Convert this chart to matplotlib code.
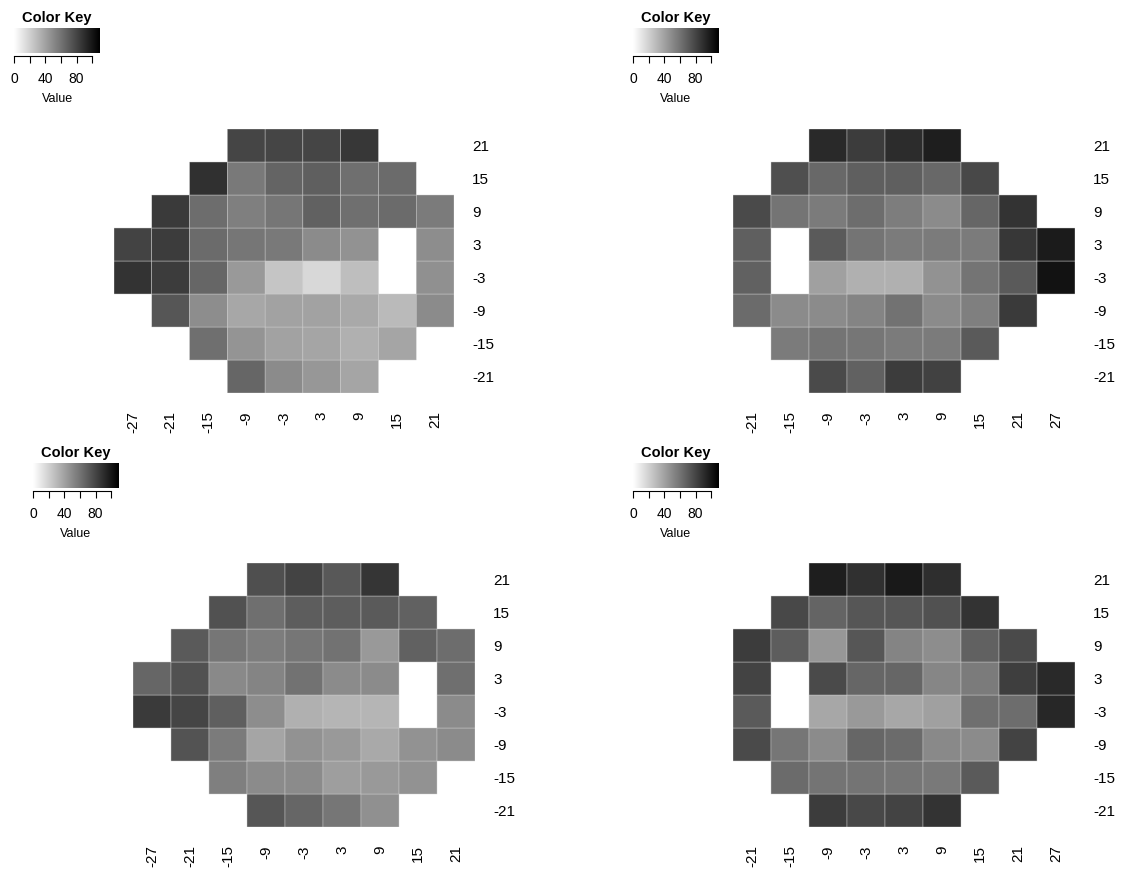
import numpy as np
import matplotlib
matplotlib.use('Agg')
import matplotlib.pyplot as plt
from matplotlib.colors import LinearSegmentedColormap, Normalize

plt.rcParams['font.family'] = ['Liberation Sans', 'DejaVu Sans']

n = np.nan

# posições do campo visual (graus)
x_esq = [-27, -21, -15, -9, -3, 3, 9, 15, 21]
x_dir = [-21, -15, -9, -3, 3, 9, 15, 21, 27]
y_lin = [21, 15, 9, 3, -3, -9, -15, -21]

# valores (nan = fora do campo / mancha cega)
campo1 = [
    [n, n, n, 80, 80, 80, 86, n, n],
    [n, n, 89, 58, 67, 69, 62, 64, n],
    [n, 85, 63, 55, 59, 68, 62, 64, 57],
    [81, 84, 64, 59, 58, 50, 47, n, 49],
    [88, 84, 66, 44, 25, 17, 28, n, 48],
    [n, 73, 49, 38, 40, 40, 37, 30, 50],
    [n, n, 62, 46, 40, 39, 34, 39, n],
    [n, n, n, 66, 50, 45, 39, n, n],
]
campo2 = [
    [n, n, 92, 84, 91, 97, n, n, n],
    [n, 76, 65, 69, 69, 65, 79, n, n],
    [78, 60, 57, 63, 56, 50, 66, 88, n],
    [69, n, 71, 60, 57, 57, 57, 86, 98],
    [68, n, 41, 34, 34, 47, 60, 71, 102],
    [64, 50, 50, 53, 61, 50, 55, 85, n],
    [n, 57, 60, 59, 57, 57, 71, n, n],
    [n, n, 78, 68, 84, 82, n, n, n],
]
campo3 = [
    [n, n, n, 76, 81, 72, 87, n, n],
    [n, n, 75, 62, 70, 70, 71, 68, n],
    [n, 71, 59, 56, 59, 61, 44, 68, 63],
    [66, 75, 51, 53, 61, 50, 50, n, 62],
    [85, 80, 69, 49, 34, 32, 32, n, 50],
    [n, 74, 57, 39, 47, 44, 37, 47, 50],
    [n, n, 55, 50, 50, 42, 44, 47, n],
    [n, n, n, 73, 66, 59, 48, n, n],
]
campo4 = [
    [n, n, 97, 89, 99, 90, n, n, n],
    [n, 79, 67, 73, 73, 75, 88, n, n],
    [84, 70, 45, 73, 53, 49, 68, 78, n],
    [81, n, 78, 66, 66, 52, 57, 83, 92],
    [71, n, 38, 44, 38, 41, 62, 63, 93],
    [78, 59, 50, 66, 64, 51, 50, 81, n],
    [n, 64, 60, 60, 59, 58, 71, n, n],
    [n, n, 84, 79, 81, 88, n, n, n],
]

key_ticks = [0, 20, 40, 60, 80, 100]
key_labels = ['0', '', '40', '', '80', '']
vmin, vmax = 0, 110

W, H = 1128, 869
cmap = LinearSegmentedColormap.from_list('cinza', ['white', 'black'])
norm = Normalize(vmin=vmin, vmax=vmax)

fig = plt.figure(figsize=(W / 100, H / 100), dpi=100)


def eixo_px(x0, y0, x1, y1):
    return fig.add_axes([x0 / W, 1 - y1 / H, (x1 - x0) / W, (y1 - y0) / H])


# (dados, colunas, retângulo do mapa, retângulo da chave) em pixels
paineis = [
    (campo1, x_esq, (114, 129, 454, 393), (14, 28, 100, 53)),
    (campo2, x_dir, (733, 129, 1075, 393), (633, 28, 719, 53)),
    (campo3, x_esq, (133, 563, 475, 827), (33, 463, 119, 488)),
    (campo4, x_dir, (733, 563, 1075, 827), (633, 463, 719, 488)),
]

for dados, cols, r_mapa, r_chave in paineis:
    # mapa de calor
    ax = eixo_px(*r_mapa)
    z = np.ma.masked_invalid(np.array(dados, dtype=float))
    xe = np.arange(len(cols) + 1) * 6 + cols[0] - 3
    ye = np.arange(len(y_lin) + 1) * 6 - 24
    ax.pcolor(xe, ye, z[::-1], cmap=cmap, norm=norm,
              edgecolors='#cfcfcf', linewidth=0.3)
    ax.set_xlim(xe[0], xe[-1])
    ax.set_ylim(ye[0], ye[-1])
    ax.set_xticks(cols)
    ax.set_xticklabels([str(c) for c in cols], rotation=90, fontsize=11)
    ax.set_yticks(y_lin)
    ax.set_yticklabels([str(v) for v in y_lin], fontsize=11)
    ax.yaxis.tick_right()
    ax.tick_params(axis='x', length=0, pad=13)
    ax.tick_params(axis='y', length=0, pad=13)
    for s in ax.spines.values():
        s.set_visible(False)

    # chave de cores
    kx = eixo_px(*r_chave)
    grad = np.linspace(vmin, vmax, 256).reshape(1, -1)
    kx.imshow(grad, cmap=cmap, norm=norm, aspect='auto',
              extent=[vmin, vmax, 0, 1])
    kx.set_xlim(vmin, vmax)
    kx.set_ylim(0, 1)
    kx.set_yticks([])
    kx.set_xticks(key_ticks)
    kx.set_xticklabels(key_labels, fontsize=9)
    kx.tick_params(axis='x', direction='out', length=5, width=0.8, pad=7)
    for nome in ['top', 'left', 'right']:
        kx.spines[nome].set_visible(False)
    kx.spines['bottom'].set_position(('outward', 2))
    kx.spines['bottom'].set_bounds(key_ticks[0], key_ticks[-1])
    kx.spines['bottom'].set_linewidth(0.8)
    kx.set_xlabel('Value', fontsize=9, labelpad=5)
    kx.set_title('Color Key', fontsize=10.5, fontweight='bold', pad=4)

fig.savefig('out.png', dpi=100)
